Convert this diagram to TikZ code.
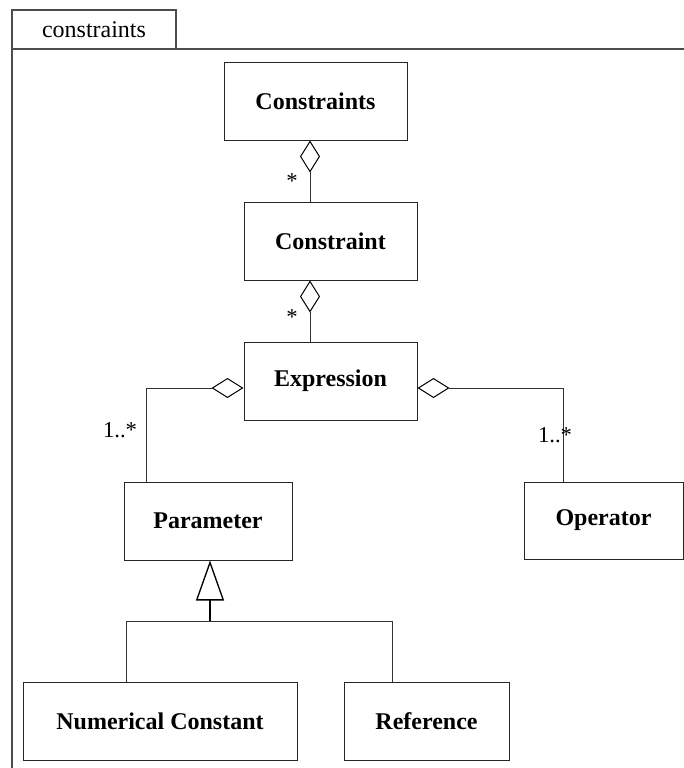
\documentclass[tikz,border=0pt]{standalone}
\usepackage{fontspec}
\setmainfont{Liberation Serif}
\usetikzlibrary{arrows.meta}
\begin{document}
\begin{tikzpicture}[x=0.75pt,y=-0.75pt,
  cls/.style 2 args={draw=black!85, line width=0.75pt, inner sep=0pt,
    minimum width=#1*0.75pt, minimum height=#2*0.75pt,
    font=\fontsize{18}{21}\selectfont\bfseries},
  mult/.style={inner sep=0pt, font=\fontsize{17}{20}\selectfont},
  conn/.style={draw=black!80, line width=0.75pt},
  agg/.style={conn, {Diamond[open, length=24pt, width=15pt, color=black]}-},
  gen/.style={draw=black, line width=1pt, -{Triangle[open, length=30pt, width=21pt]}},
  frameline/.style={draw=black!70, line width=0.9pt}]
  \useasboundingbox (0,0) rectangle (684,768);
  \clip (0,0) rectangle (684,768);

  % package frame with its name tab
  \node[frameline, inner sep=0pt, minimum width=164*0.75pt, minimum height=39*0.75pt,
        font=\fontsize{18}{21}\selectfont] (tab) at (94,29.5) {constraints};
  \draw[frameline] (12,770) -- (12,49) -- (686,49);

  % classes
  \node[cls={183}{78}] (cs) at (315.5,101) {Constraints};
  \node[cls={173}{78}] (ct) at (330.5,241) {Constraint};
  \node[cls={173}{78}] (ex) at (330.5,381) {Expression};
  \node[cls={168}{78}] (pa) at (208,521) {Parameter};
  \node[cls={159}{77}] (op) at (603.5,520.5) {Operator};
  \node[cls={274}{78}] (nc) at (160,721) {Numerical Constant};
  \node[cls={165}{78}] (rf) at (426.5,721) {Reference};

  % routing columns and rows
  \coordinate (c1) at (310,0);
  \coordinate (c2) at (146,0);
  \coordinate (c3) at (563,0);
  \coordinate (c4) at (210,0);
  \coordinate (c5) at (126,0);
  \coordinate (c6) at (392,0);
  \coordinate (r1) at (0,388);
  \coordinate (r2) at (0,621);

  % aggregations
  \draw[agg] (cs.south -| c1) -- (ct.north -| c1);
  \draw[agg] (ct.south -| c1) -- (ex.north -| c1);
  \draw[agg] (ex.west |- r1) -- (c2 |- r1) -- (pa.north -| c2);
  \draw[agg] (ex.east |- r1) -- (c3 |- r1) -- (op.north -| c3);

  % generalization
  \draw[gen] (c4 |- r2) -- (pa.south -| c4);
  \draw[conn] (nc.north -| c5) -- (c5 |- r2) -- (c6 |- r2) -- (rf.north -| c6);

  % multiplicities
  \node[mult] (m1) at (292,181) {*};
  \node[mult] (m2) at (292,317) {*};
  \node[mult] (m3) at (120,430) {1..*};
  \node[mult] (m4) at (555,435) {1..*};
\end{tikzpicture}
\end{document}
